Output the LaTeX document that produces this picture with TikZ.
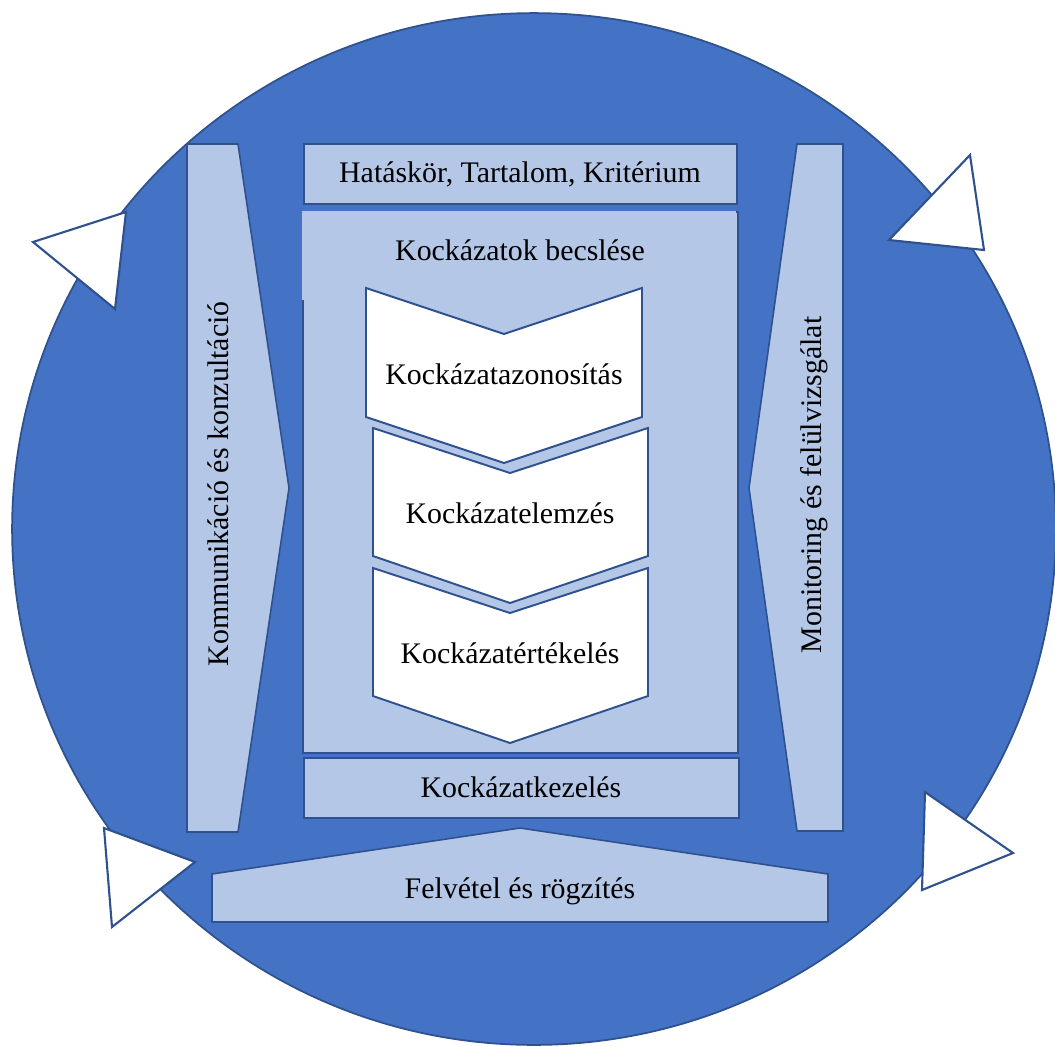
\documentclass[tikz,border=0pt]{standalone}
\usepackage{fontspec}
\setmainfont{Liberation Serif}
\definecolor{circfill}{HTML}{4472C4}
\definecolor{edgeblue}{HTML}{2F528F}
\definecolor{lightblue}{HTML}{B4C7E7}
\begin{document}
\begin{tikzpicture}[x=0.02cm,y=-0.02cm,
  lightshape/.style={draw=edgeblue, line width=0.9pt, line join=miter, fill=lightblue},
  chev/.style={draw=edgeblue, line width=1.1pt, line join=miter, fill=white},
  tri/.style={draw=edgeblue, line width=1.2pt, line join=miter, fill=white},
  lbl/.style={font=\fontsize{17}{20}\selectfont, inner sep=0pt, anchor=base}]
\useasboundingbox (0,0) rectangle (1055,1046);
\begin{scope}
  \clip (0,0) rectangle (1055,1046);
  \draw[fill=circfill, draw=edgeblue, line width=1pt] (534,529) ellipse [x radius=10.44cm, y radius=10.32cm];
\end{scope}
% triangles
\draw[tri] (126,212) -- (33,242) -- (115,309) -- cycle;
\draw[tri] (970,155) -- (889,240) -- (984,250) -- cycle;
\draw[tri] (104,828) -- (195,862) -- (112,927) -- cycle;
\draw[tri] (925,792) -- (1013,853) -- (922,890) -- cycle;
% side shapes
\draw[lightshape] (187,144) -- (238,144) -- (289,488) -- (238,832) -- (187,832) -- cycle;
\draw[lightshape] (797,144) -- (843,144) -- (843,831) -- (797,831) -- (749,488) -- cycle;
% boxes
\draw[lightshape] (304,144) rectangle (737,204);
\draw[lightshape] (303,212) rectangle (738,753);
\fill[lightblue] (302,211) rectangle (736,300);
\draw[lightshape] (304,758) rectangle (739,818);
\draw[lightshape] (212,874) -- (520,828) -- (828,874) -- (828,922) -- (212,922) -- cycle;
% chevrons
\draw[chev] (366,288) -- (504,334) -- (642,288) -- (642,417) -- (504,463) -- (366,417) -- cycle;
\draw[chev] (373,428) -- (510,473) -- (648,428) -- (648,556) -- (510,603) -- (373,556) -- cycle;
\draw[chev] (373,568) -- (510,613) -- (648,568) -- (648,696) -- (510,743) -- (373,696) -- cycle;
% labels
\node[lbl] (scopelbl) at (520,182) {Hatáskör, Tartalom, Kritérium};
\node[lbl] (assess) at (520,260) {Kockázatok becslése};
\node[lbl] (ident) at (504,384) {Kockázatazonosítás};
\node[lbl] (analysis) at (510,523) {Kockázatelemzés};
\node[lbl] (evaluation) at (510,663) {Kockázatértékelés};
\node[lbl] (treatment) at (521,797) {Kockázatkezelés};
\node[lbl] (record) at (520,898) {Felvétel és rögzítés};
\node[lbl, rotate=90] (comm) at (228,484) {Kommunikáció és konzultáció};
\node[lbl, rotate=90] (monitor) at (821,485) {Monitoring és felülvizsgálat};
\end{tikzpicture}
\end{document}
